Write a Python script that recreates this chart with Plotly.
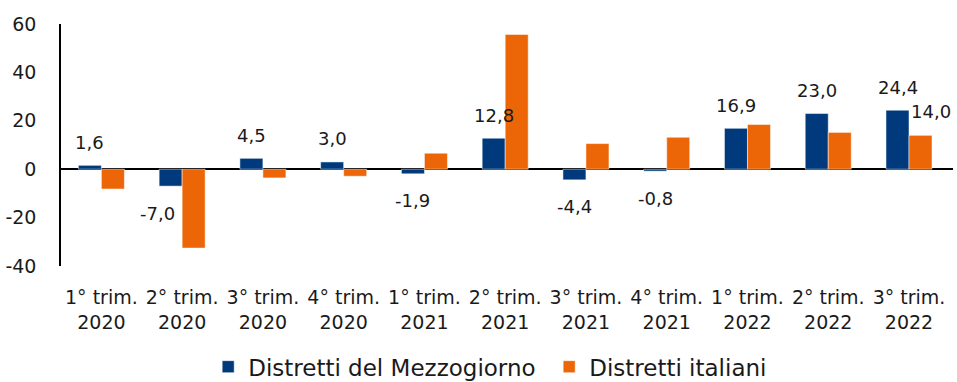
import plotly.graph_objects as go

categories = ["1° trim.<br>2020", "2° trim.<br>2020", "3° trim.<br>2020", "4° trim.<br>2020",
              "1° trim.<br>2021", "2° trim.<br>2021", "3° trim.<br>2021", "4° trim.<br>2021",
              "1° trim.<br>2022", "2° trim.<br>2022", "3° trim.<br>2022"]
mezzogiorno = [1.6, -7.0, 4.5, 3.0, -1.9, 12.8, -4.4, -0.8, 16.9, 23.0, 24.4]
italiani = [-8.2, -32.6, -3.6, -2.9, 6.6, 55.7, 10.6, 13.2, 18.5, 15.2, 14.0]
y_ticks = [-40, -20, 0, 20, 40, 60]
y_tick_labels = [str(t) for t in y_ticks]

BLUE = "#003A7D"
ORANGE = "#EC6608"
FONT = "DejaVu Sans"
TXT = "#1a1a1a"

fig = go.Figure()
fig.add_trace(go.Bar(x=categories, y=mezzogiorno, name="Distretti del Mezzogiorno",
                     marker=dict(color=BLUE, line=dict(color="white", width=0.5))))
fig.add_trace(go.Bar(x=categories, y=italiani, name="Distretti italiani",
                     marker=dict(color=ORANGE, line=dict(color="white", width=0.5))))

def fmt(v):
    return f"{v:.1f}".replace(".", ",")

label_dx = [0, -13, 0, 0, 0, 0, 0, 0, 0, 0, 0]
for i, (c, v) in enumerate(zip(categories, mezzogiorno)):
    fig.add_annotation(x=c, y=v, text=fmt(v), showarrow=False,
                       xshift=-11.5 + label_dx[i], yshift=23 if v >= 0 else -27,
                       font=dict(family=FONT, size=18, color=TXT))
# last orange value label
fig.add_annotation(x=categories[-1], y=italiani[-1], text=fmt(italiani[-1]), showarrow=False,
                   xshift=22, yshift=24, font=dict(family=FONT, size=18, color=TXT))

fig.update_layout(
    width=957, height=382,
    margin=dict(l=61, r=4, t=24, b=116, autoexpand=False),
    paper_bgcolor="white", plot_bgcolor="white",
    barmode="group", bargap=0.43, bargroupgap=0,
    font=dict(family=FONT, size=19, color=TXT),
    showlegend=True,
    legend=dict(orientation="h", xref="paper", x=0.165, xanchor="left",
                yref="container", y=0.04, yanchor="middle",
                font=dict(family=FONT, size=23, color=TXT),
                traceorder="normal", entrywidth=296, entrywidthmode="pixels"),
)
fig.update_xaxes(showline=False, showgrid=False, zeroline=False, ticks="",
                 tickfont=dict(family=FONT, size=19, color=TXT), ticklabelstandoff=18)
fig.update_yaxes(range=[-40, 60], tickvals=y_ticks, ticktext=y_tick_labels, showgrid=False,
                 showline=True, linecolor="black", linewidth=1.5,
                 zeroline=True, zerolinecolor="black", zerolinewidth=2,
                 ticks="", tickfont=dict(family=FONT, size=19, color=TXT), ticklabelstandoff=19)

fig.write_html("out.html")
